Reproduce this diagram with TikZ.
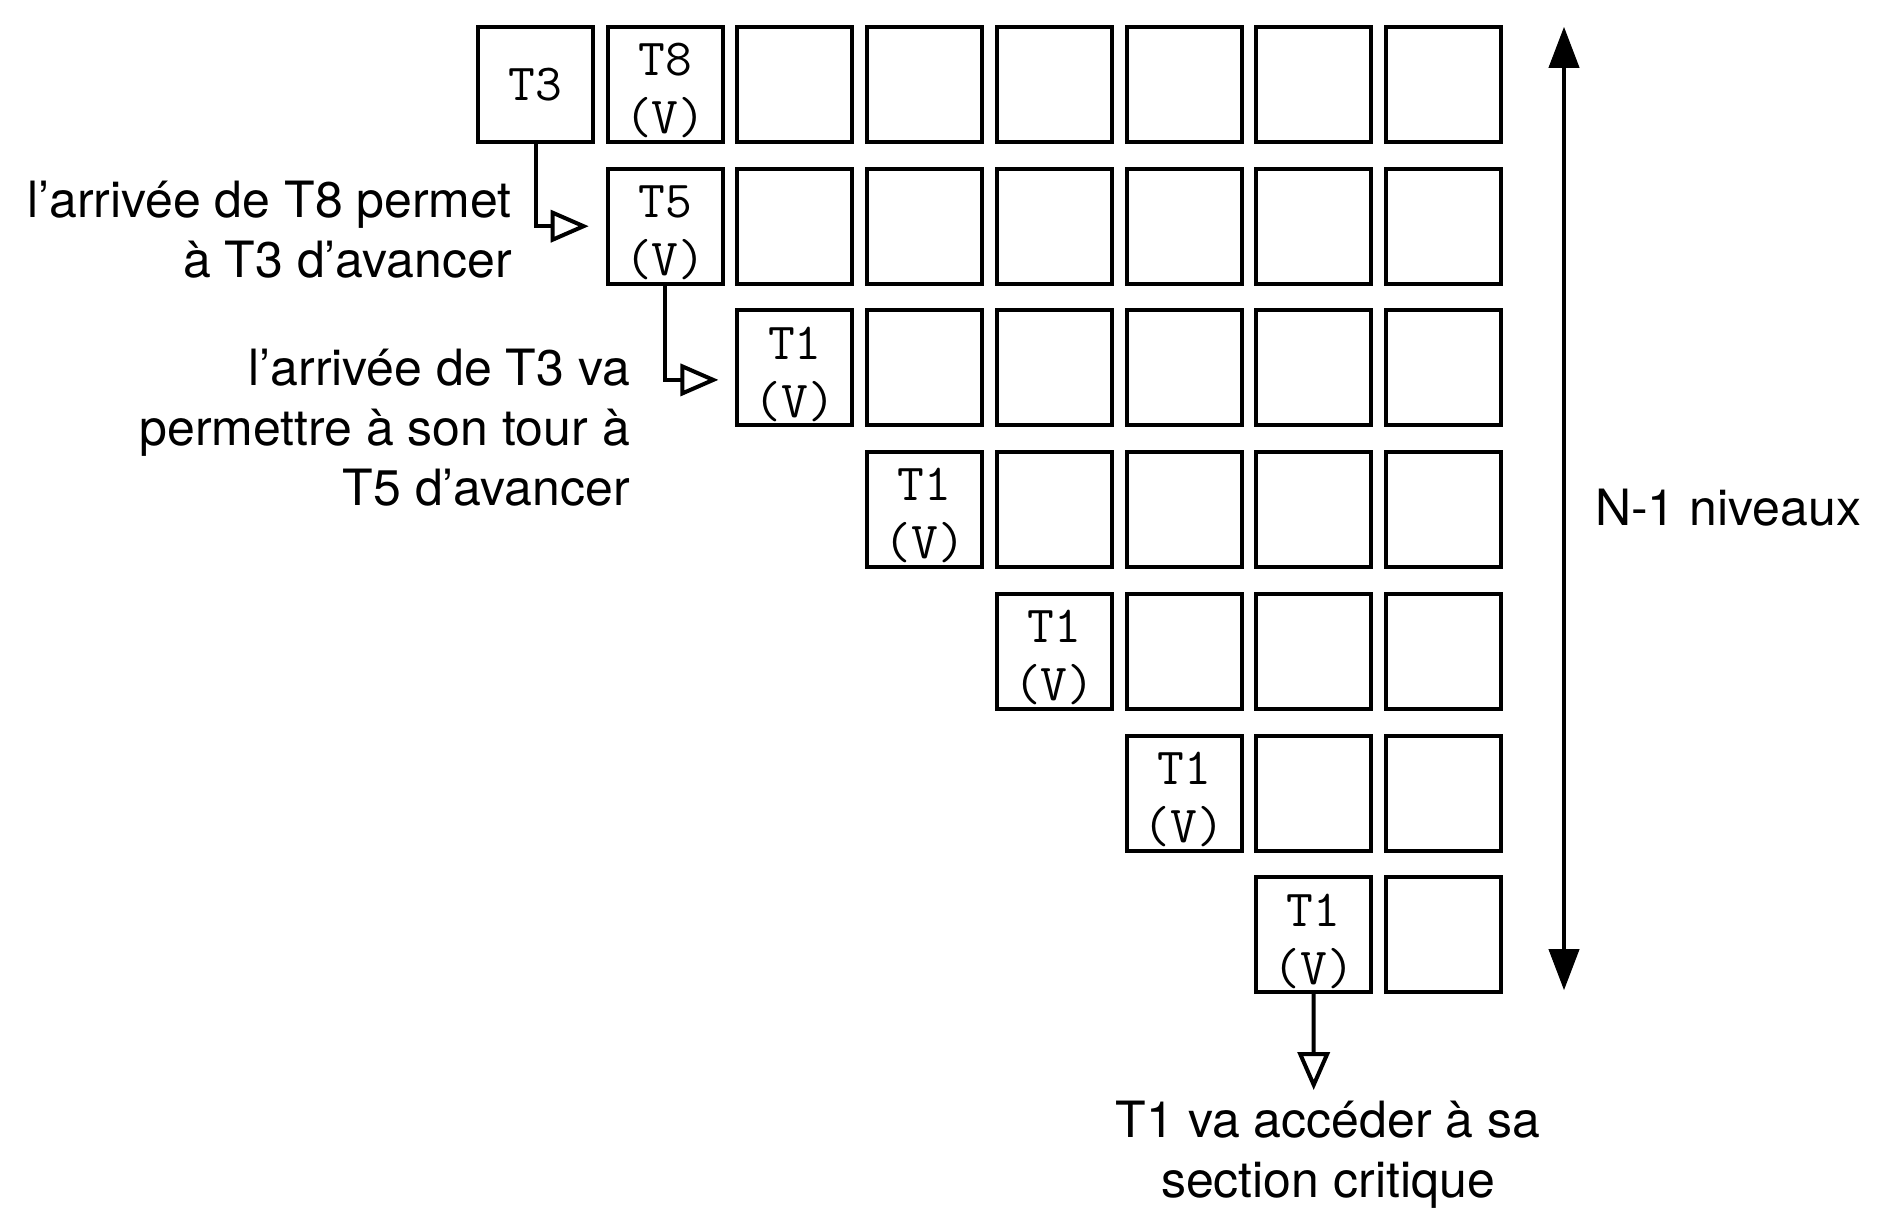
\documentclass[tikz,border=0pt]{standalone}
\usepackage{fontspec}
\setmainfont{TeX Gyre Heros}
\usetikzlibrary{arrows.meta}
\newcommand{\twoline}[1]{\rule{0pt}{45pt}#1\\(V)}
\begin{document}
\begin{tikzpicture}[x=1pt,y=-1pt,
  cell/.style={draw, line width=4pt, minimum width=115pt, minimum height=115pt, inner sep=0pt,
    font=\ttfamily\fontsize{52}{58}\selectfont, align=center},
  lbl/.style={font=\fontsize{50}{60}\selectfont, inner sep=0pt},
  flow/.style={line width=4pt, -{Triangle[open, length=38pt, width=32pt, line width=4pt]}},
  span/.style={line width=4pt, {Triangle[length=41pt, width=31pt, line width=1pt]}-{Triangle[length=41pt, width=31pt, line width=1pt]}}]
\useasboundingbox (0,0) rectangle (1895,1212);
\fill[white] (0,0) rectangle (1895,1212);
% labelled cells
\node[cell] (c0-0) at ({535.5+129.7*0},{84.5+141.7*0}) {T3};
\node[cell] (c0-1) at ({535.5+129.7*1},{84.5+141.7*0}) {\twoline{T8}};
\node[cell] (c1-1) at ({535.5+129.7*1},{84.5+141.7*1}) {\twoline{T5}};
\foreach \j in {2,...,6} {
  \node[cell] (c\j-\j) at ({535.5+129.7*\j},{84.5+141.7*\j}) {\twoline{T1}};
}
% empty cells
\foreach \i in {2,...,7} {
  \node[cell] (c0-\i) at ({535.5+129.7*\i},{84.5}) {};
}
\foreach \j in {1,...,6} {
  \pgfmathtruncatemacro{\first}{\j+1}
  \foreach \i in {\first,...,7} {
    \node[cell] (c\j-\i) at ({535.5+129.7*\i},{84.5+141.7*\j}) {};
  }
}
% labels
\node[lbl, anchor=east, align=right] (n1) at (512,230) {l’arrivée de T8 permet\\à T3 d’avancer};
\node[lbl, anchor=east, align=right] (n2) at (630,428) {l’arrivée de T3 va\\permettre à son tour à\\T5 d’avancer};
\node[lbl, align=center] (n3) at (1328,1155) {T1 va accéder à sa\\section critique};
\node[lbl, anchor=west] (n4) at (1595,508) {N-1 niveaux};
% connectors
\draw[flow, shorten >=17pt] (c0-0.south) |- (c1-1.west);
\draw[flow, shorten >=17pt] (c1-1.south) |- ([yshift=-12pt]c2-2.west);
\coordinate (crit) at (1313.7,1090);
\draw[flow] (c6-6.south) -- (crit);
\coordinate (top) at (1564,27);
\coordinate (bot) at (1564,990);
\draw[span] (top) -- (bot);
\end{tikzpicture}
\end{document}
